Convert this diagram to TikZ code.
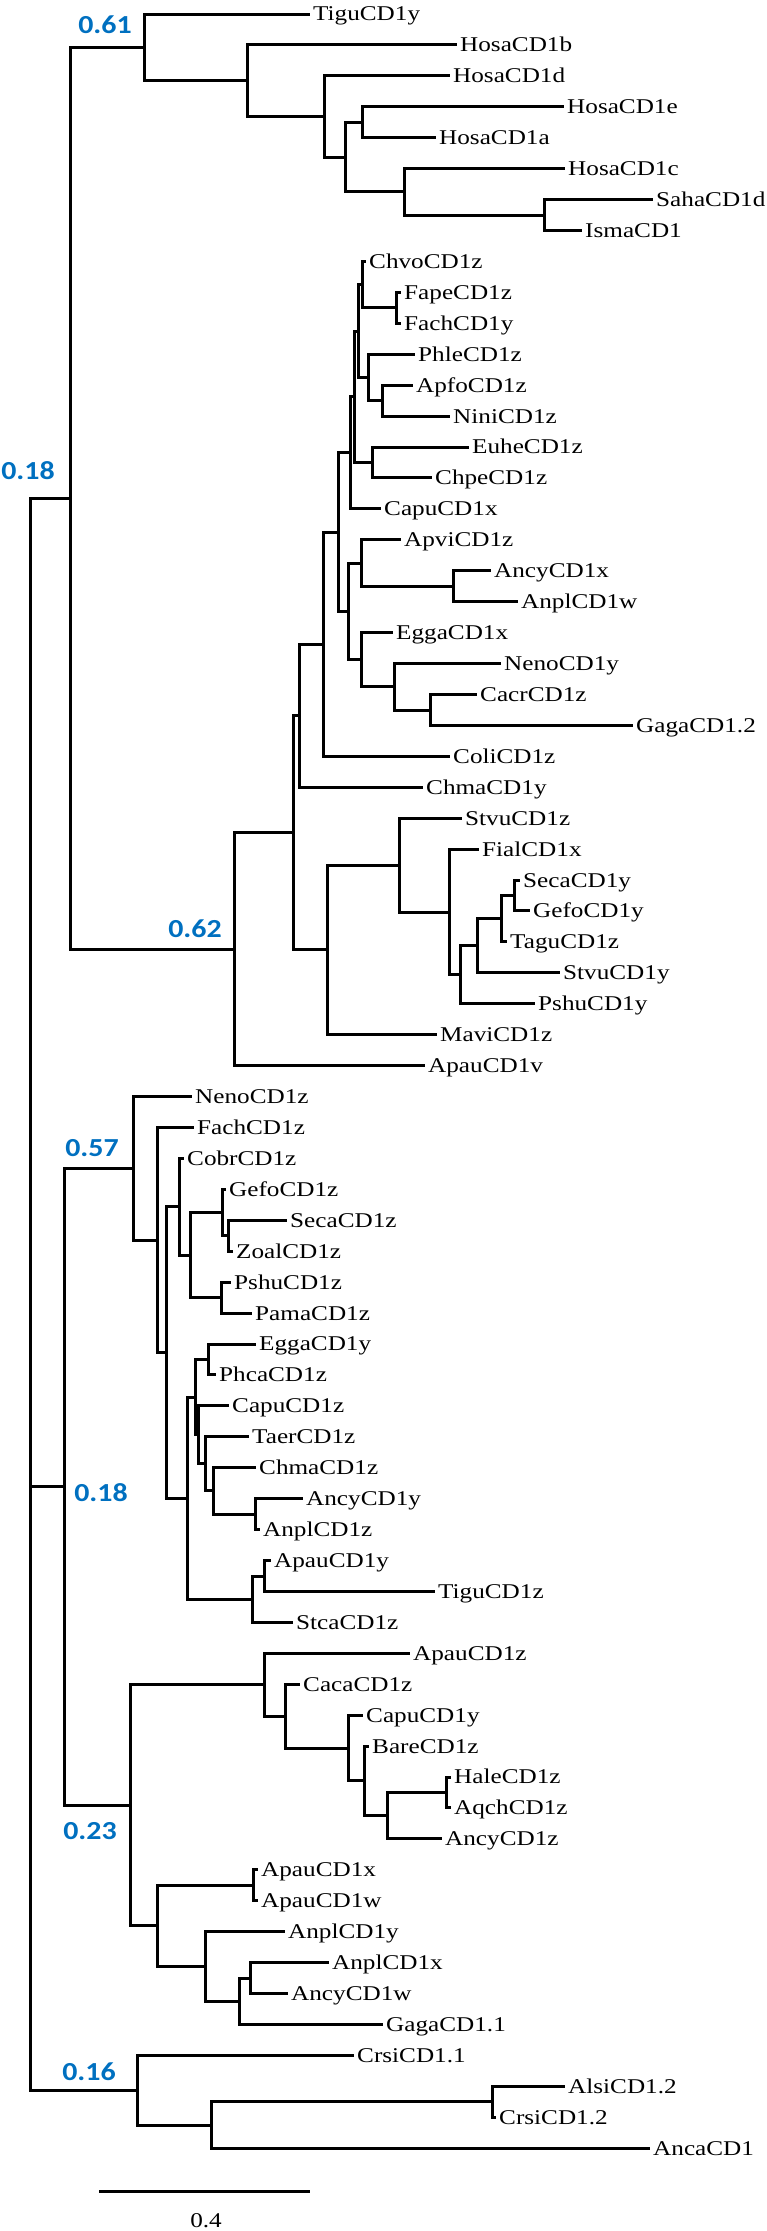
\documentclass[tikz,border=0pt]{standalone}
\usepackage{fontspec}
\newfontfamily\lfont[FakeStretch=1.2]{Liberation Serif}
\newfontfamily\bfont[FakeStretch=1.15]{Carlito}
\definecolor{supblue}{RGB}{0,112,192}
\tikzset{
  br/.style={line width=3pt, line cap=rect, black},
  lf/.style={anchor=west, inner xsep=5pt, inner ysep=0pt, font=\lfont\fontsize{21}{21}\selectfont, text height=13.9pt, text depth=0pt},
  sv/.style={text=supblue, font=\bfont\bfseries\fontsize{26}{26}\selectfont, inner sep=0pt},
}
\begin{document}
\begin{tikzpicture}[x=1pt,y=-1pt]
\useasboundingbox (0,0) rectangle (767,2231);
% internal nodes
\coordinate (root) at (30,1486.8);
\coordinate (T) at (70,498.3);
\coordinate (c061) at (144,47.4);
\coordinate (n1) at (247,80.7);
\coordinate (n2) at (324,116.5);
\coordinate (n3) at (345,157.1);
\coordinate (n4) at (362,122.3);
\coordinate (n5) at (404,191.9);
\coordinate (n6) at (544,215.1);
\coordinate (c062) at (234,949.2);
\coordinate (p7) at (293,832.8);
\coordinate (p6) at (299,715.7);
\coordinate (p5) at (323,644.2);
\coordinate (p4) at (338,532);
\coordinate (p3) at (350,452.8);
\coordinate (p2) at (354,396.8);
\coordinate (p1) at (358,331);
\coordinate (q1) at (362,284.6);
\coordinate (ff) at (396,307.9);
\coordinate (q2) at (368,377.4);
\coordinate (an) at (382,400.6);
\coordinate (ec) at (372,462.5);
\coordinate (ae) at (348,611.3);
\coordinate (av) at (361,563);
\coordinate (aa) at (453,586.2);
\coordinate (eg) at (361,659.7);
\coordinate (ng) at (394,686.7);
\coordinate (gc) at (430,710);
\coordinate (p8) at (327,949.9);
\coordinate (p9) at (399,865.1);
\coordinate (p10) at (449,912);
\coordinate (p11) at (460,974.8);
\coordinate (p12) at (477,945.8);
\coordinate (p13) at (501,918.7);
\coordinate (sg) at (514,895.5);
\coordinate (MC) at (64,1486.8);
\coordinate (nc) at (133,1168.3);
\coordinate (m1) at (157,1240);
\coordinate (m2) at (166,1352.5);
\coordinate (m3) at (179,1206.7);
\coordinate (m4) at (190,1255);
\coordinate (m5) at (222,1212.5);
\coordinate (sz) at (228,1235.8);
\coordinate (m6) at (221,1297.6);
\coordinate (m7) at (187,1498.2);
\coordinate (u4) at (195,1397.2);
\coordinate (ep) at (208,1359.5);
\coordinate (u3) at (198,1434.9);
\coordinate (u2) at (205,1463.9);
\coordinate (u1) at (213,1490.9);
\coordinate (ay) at (255,1514.1);
\coordinate (l1) at (252,1599.2);
\coordinate (l2) at (264,1576);
\coordinate (c023) at (130,1805.4);
\coordinate (k1) at (264,1684.8);
\coordinate (k2) at (285,1716.2);
\coordinate (k3) at (348,1748.1);
\coordinate (k4) at (364,1780.9);
\coordinate (k5) at (387,1815.7);
\coordinate (k6) at (446,1792.5);
\coordinate (k7) at (157,1925.9);
\coordinate (k8) at (253,1885.3);
\coordinate (k9) at (205,1966.5);
\coordinate (k10) at (239,2001.3);
\coordinate (k11) at (250,1978);
\coordinate (c016) at (137,2090.2);
\coordinate (b1) at (211,2125);
\coordinate (b2) at (492,2101.8);
% leaves
\foreach \n/\x/\i/\t in {
 tiguy/308/1/TiguCD1y, hosab/455/2/HosaCD1b, hosad/448/3/HosaCD1d, hosae/562/4/HosaCD1e,
 hosaa/434/5/HosaCD1a, hosac/563/6/HosaCD1c, saha/651/7/SahaCD1d, isma/580/8/IsmaCD1,
 chvo/364/9/ChvoCD1z, fape/399/10/FapeCD1z, fachy/399/11/FachCD1y, phle/413/12/PhleCD1z,
 apfo/411/13/ApfoCD1z, nini/448/14/NiniCD1z, euhe/467/15/EuheCD1z, chpe/430/16/ChpeCD1z,
 capux/379/17/CapuCD1x, apvi/399/18/ApviCD1z, ancyx/489/19/AncyCD1x, anplw/516/20/AnplCD1w,
 eggax/391/21/EggaCD1x, nenoy/499/22/NenoCD1y, cacr/475/23/CacrCD1z, gaga2/631/24/GagaCD1.2,
 coli/448/25/ColiCD1z, chmay/421/26/ChmaCD1y, stvuz/460/27/StvuCD1z, fial/477/28/FialCD1x,
 secay/518/29/SecaCD1y, gefoy/528/30/GefoCD1y, tagu/505/31/TaguCD1z, stvuy/558/32/StvuCD1y,
 pshuy/533/33/PshuCD1y, mavi/435/34/MaviCD1z, apauv/423/35/ApauCD1v, nenoz/190/36/NenoCD1z,
 fachz/192/37/FachCD1z, cobr/182/38/CobrCD1z, gefoz/224/39/GefoCD1z, secaz/285/40/SecaCD1z,
 zoal/231/41/ZoalCD1z, pshuz/229/42/PshuCD1z, pama/250/43/PamaCD1z, eggay/254/44/EggaCD1y,
 phca/214/45/PhcaCD1z, capuz/227/46/CapuCD1z, taer/247/47/TaerCD1z, chmaz/254/48/ChmaCD1z,
 ancyy/301/49/AncyCD1y, anplz/258/50/AnplCD1z, apauy/269/51/ApauCD1y, tiguz/433/52/TiguCD1z,
 stca/291/53/StcaCD1z, apauz/408/54/ApauCD1z, caca/298/55/CacaCD1z, capuy/361/56/CapuCD1y,
 bare/367/57/BareCD1z, hale/449/58/HaleCD1z, aqch/449/59/AqchCD1z, ancyz/440/60/AncyCD1z,
 apaux/256/61/ApauCD1x, apauw/256/62/ApauCD1w, anply/283/63/AnplCD1y, anplx/327/64/AnplCD1x,
 ancyw/286/65/AncyCD1w, gaga1/381/66/GagaCD1.1, crsi1/352/67/CrsiCD1.1, alsi/563/68/AlsiCD1.2,
 crsi2/494/69/CrsiCD1.2, anca/648/70/AncaCD1}
 \node[lf] (\n) at (\x,{14+(\i-1)*30.93}) {\t};
% internal branches
\foreach \p/\c in {root/T, root/MC, root/c016, T/c061, T/c062, c061/n1, n1/n2, n2/n3, n3/n4, n3/n5, n5/n6,
 c062/p7, p7/p6, p7/p8, p6/p5, p5/p4, p4/p3, p4/ae, p3/p2, p2/p1, p2/ec, p1/q1, p1/q2, q1/ff, q2/an,
 ae/av, ae/eg, av/aa, eg/ng, ng/gc, p8/p9, p9/p10, p10/p11, p11/p12, p12/p13, p13/sg,
 MC/nc, MC/c023, nc/m1, m1/m2, m2/m3, m2/m7, m3/m4, m4/m5, m4/m6, m5/sz, m7/u4, m7/l1,
 u4/ep, u4/u3, u3/u2, u2/u1, u1/ay, l1/l2, c023/k1, c023/k7, k1/k2, k2/k3, k3/k4, k4/k5, k5/k6,
 k7/k8, k7/k9, k9/k10, k10/k11, c016/b1, b1/b2}
 \draw[br] (\p) |- (\c);
% leaf branches
\foreach \p/\c in {c061/tiguy, n1/hosab, n2/hosad, n4/hosae, n4/hosaa, n5/hosac, n6/saha, n6/isma,
 q1/chvo, ff/fape, ff/fachy, q2/phle, an/apfo, an/nini, ec/euhe, ec/chpe, p3/capux, av/apvi,
 aa/ancyx, aa/anplw, eg/eggax, ng/nenoy, gc/cacr, gc/gaga2, p5/coli, p6/chmay, p9/stvuz,
 p10/fial, sg/secay, sg/gefoy, p13/tagu, p12/stvuy, p11/pshuy, p8/mavi, c062/apauv,
 nc/nenoz, m1/fachz, m3/cobr, m5/gefoz, sz/secaz, sz/zoal, m6/pshuz, m6/pama, ep/eggay, ep/phca,
 u3/capuz, u2/taer, u1/chmaz, ay/ancyy, ay/anplz, l2/apauy, l2/tiguz, l1/stca,
 k1/apauz, k2/caca, k3/capuy, k4/bare, k6/hale, k6/aqch, k5/ancyz, k8/apaux, k8/apauw,
 k9/anply, k11/anplx, k11/ancyw, k10/gaga1, c016/crsi1, b2/alsi, b2/crsi2, b1/anca}
 \draw[br] (\p) |- (\c.west);
% support values
\node[sv] (s1) at (105,25) {0.61};
\node[sv] (s2) at (28,471) {0.18};
\node[sv] (s3) at (195,929) {0.62};
\node[sv] (s4) at (92,1148) {0.57};
\node[sv] (s5) at (101,1493) {0.18};
\node[sv] (s6) at (90,1831) {0.23};
\node[sv] (s7) at (89,2072) {0.16};
% scale bar
\coordinate (sb1) at (100,2191);
\coordinate (sb2) at (308,2191);
\draw[br] (sb1) -- (sb2);
\node[lf, anchor=center, inner xsep=0pt] (sbl) at (206,2221) {0.4};
\end{tikzpicture}
\end{document}
